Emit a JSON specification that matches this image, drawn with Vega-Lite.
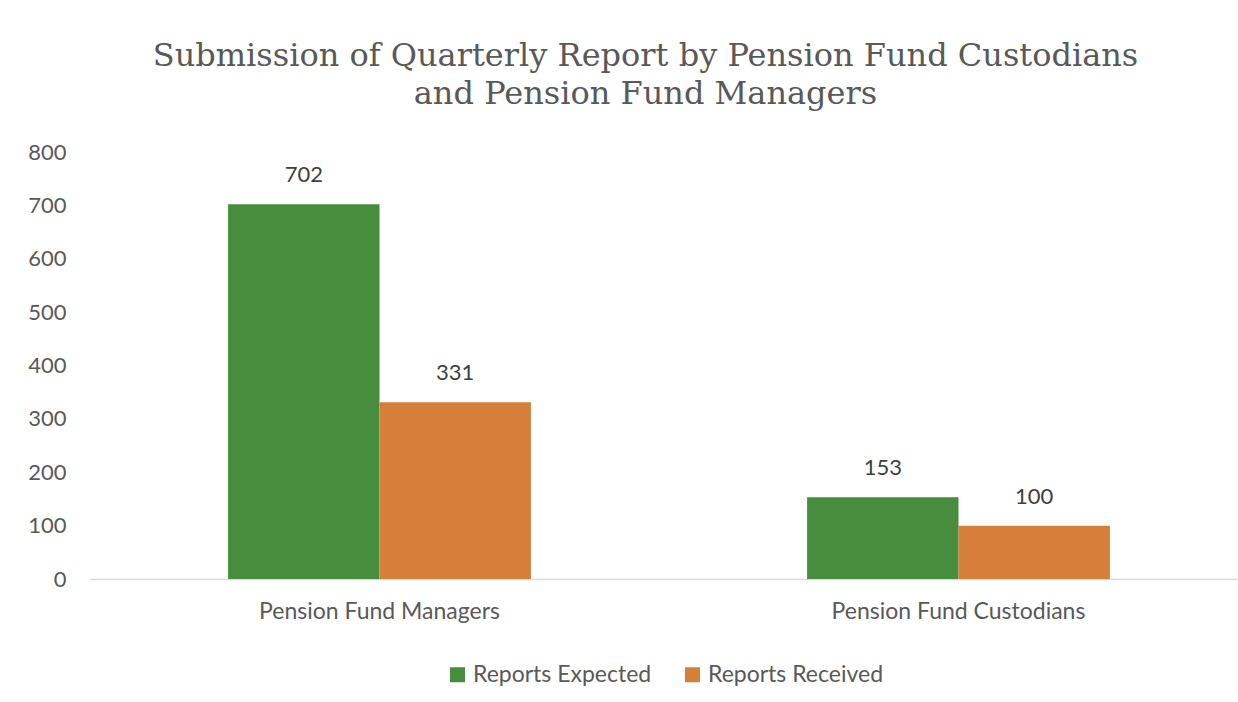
{
  "$schema": "https://vega.github.io/schema/vega-lite/v6.json",
  "width": 1149,
  "height": 427,
  "padding": {"left": 27, "top": 40, "right": 0, "bottom": 5},
  "background": "white",
  "title": {
    "text": ["Submission of Quarterly Report by Pension Fund Custodians", "and Pension Fund Managers"],
    "font": "DejaVu Serif",
    "fontSize": 32,
    "fontWeight": "normal",
    "color": "#595959",
    "lineHeight": 38,
    "anchor": "middle",
    "dx": -19,
    "offset": 30
  },
  "data": {
    "values": [
      {"category": "Pension Fund Managers", "series": "Reports Expected", "value": 702},
      {"category": "Pension Fund Managers", "series": "Reports Received", "value": 331},
      {"category": "Pension Fund Custodians", "series": "Reports Expected", "value": 153},
      {"category": "Pension Fund Custodians", "series": "Reports Received", "value": 100}
    ]
  },
  "encoding": {
    "x": {
      "field": "category",
      "type": "nominal",
      "sort": ["Pension Fund Managers", "Pension Fund Custodians"],
      "scale": {"paddingInner": 0.477, "paddingOuter": 0.2385, "range": [0, 1158]},
      "axis": {
        "title": null,
        "labelAngle": 0,
        "labelLimit": 0,
        "labelFont": "Lato",
        "labelFontSize": 23,
        "labelColor": "#595959",
        "labelPadding": 21,
        "ticks": false,
        "domainColor": "#d9d9d9",
        "domainWidth": 1.5,
        "grid": false
      }
    },
    "xOffset": {
      "field": "series",
      "type": "nominal",
      "sort": ["Reports Expected", "Reports Received"],
      "scale": {"paddingInner": 0, "paddingOuter": 0}
    },
    "y": {
      "field": "value",
      "type": "quantitative",
      "scale": {"domain": [0, 800], "nice": false},
      "axis": {
        "title": null,
        "values": [0, 100, 200, 300, 400, 500, 600, 700, 800],
        "grid": false,
        "domain": false,
        "ticks": false,
        "labelFont": "Lato",
        "labelFontSize": 22,
        "labelColor": "#595959",
        "labelPadding": 24
      }
    }
  },
  "layer": [
    {
      "mark": {"type": "bar"},
      "encoding": {
        "color": {
          "field": "series",
          "type": "nominal",
          "sort": ["Reports Expected", "Reports Received"],
          "scale": {"domain": ["Reports Expected", "Reports Received"], "range": ["#468D3E", "#D57F3A"]},
          "legend": {
            "title": null,
            "orient": "bottom",
            "direction": "horizontal",
            "symbolType": "square",
            "symbolSize": 225,
            "symbolStrokeWidth": 0,
            "labelFont": "Lato",
            "labelFontSize": 23,
            "labelColor": "#595959",
            "labelLimit": 0,
            "columnPadding": 29,
            "offset": 40
          }
        }
      }
    },
    {
      "mark": {"type": "text", "baseline": "bottom", "dy": -17, "font": "Lato", "fontSize": 22, "color": "#404040"},
      "encoding": {
        "text": {"field": "value", "type": "quantitative"}
      }
    }
  ],
  "config": {
    "view": {"stroke": null},
    "legend": {"layout": {"bottom": {"anchor": "middle"}}}
  }
}
